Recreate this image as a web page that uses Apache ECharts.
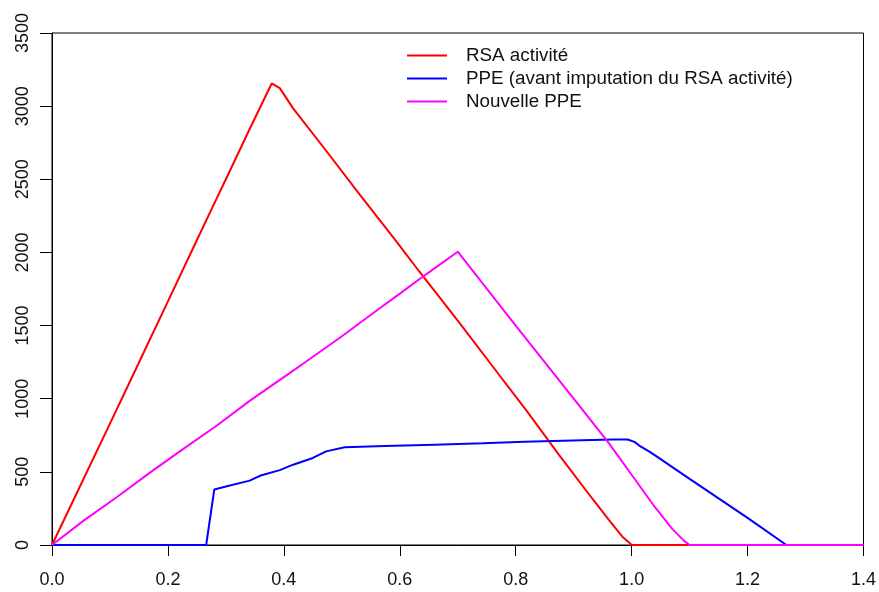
<!DOCTYPE html>
<html>
<head>
<meta charset="utf-8">
<script src="https://cdn.jsdelivr.net/npm/echarts@6/dist/echarts.min.js"></script>
<style>
html,body{margin:0;padding:0;background:#fff;}
#chart{width:879px;height:592px;}
</style>
</head>
<body>
<div id="chart"></div>
<script>
// Data
var seriesNames = ['RSA activité', 'PPE (avant imputation du RSA activité)', 'Nouvelle PPE'];
var xTickLabels = ['0.0', '0.2', '0.4', '0.6', '0.8', '1.0', '1.2', '1.4'];
var yTickLabels = ['0', '500', '1000', '1500', '2000', '2500', '3000', '3500'];

var rsaX = [0, 0.05, 0.10, 0.13, 0.17, 0.20, 0.25, 0.28, 0.30, 0.34, 0.379, 0.393, 0.416, 0.473, 0.531, 0.594, 0.634, 0.703, 0.760, 0.818, 0.875, 0.932, 0.961, 0.984, 0.996, 1.0, 1.4];
var rsaY = [0, 415, 830, 1080, 1415, 1665, 2085, 2335, 2500, 2835, 3155, 3123, 2985, 2695, 2395, 2075, 1868, 1518, 1222, 922, 615, 318, 170, 57, 16, 0, 0];

var ppeX = [0, 0.266, 0.280, 0.30, 0.341, 0.36, 0.393, 0.416, 0.45, 0.473, 0.505, 0.574, 0.66, 0.743, 0.815, 0.898, 0.967, 0.993, 1.005, 1.013, 1.03, 1.043, 1.1, 1.2, 1.267, 1.4];
var ppeY = [0, 0, 380, 400, 440, 475, 512, 549, 595, 640, 668, 676, 686, 695, 705, 714, 721, 721, 705, 680, 640, 606, 452, 185, 0, 0];

var nppeX = [0, 0.054, 0.111, 0.169, 0.226, 0.284, 0.341, 0.41, 0.444, 0.496, 0.559, 0.599, 0.64, 0.70, 0.80, 0.90, 0.96, 1.00, 1.04, 1.07, 1.09, 1.10, 1.4];
var nppeY = [0, 165, 325, 495, 655, 815, 985, 1175, 1270, 1415, 1600, 1715, 1835, 2005, 1500, 1000, 700, 480, 260, 110, 30, 0, 0];

var colors = ['#ff0000', '#0000ff', '#ff00ff'];

function pairs(xs, ys) {
  return xs.map(function (x, i) { return [x, ys[i]]; });
}

var chart = echarts.init(document.getElementById('chart'), null, {renderer: 'canvas'});
var fontFamily = 'Liberation Sans, Arial, sans-serif';
var textColor = '#111';

chart.setOption({
  animation: false,
  backgroundColor: '#ffffff',
  grid: {
    left: 52, right: 14, top: 33, bottom: 47,
    show: true, borderColor: '#000', borderWidth: 1, backgroundColor: 'transparent'
  },
  legend: {
    orient: 'vertical',
    left: 407,
    top: 46,
    padding: 0,
    itemWidth: 40,
    itemHeight: 2,
    itemGap: 4,
    icon: 'rect',
    data: seriesNames,
    textStyle: {
      fontFamily: fontFamily, fontSize: 18.8, color: textColor,
      lineHeight: 17.5, padding: [0, 0, 0, 14]
    }
  },
  xAxis: {
    type: 'value',
    min: 0, max: 1.4, interval: 0.2,
    axisLine: {show: true, onZero: false, lineStyle: {color: '#000', width: 1}},
    axisTick: {show: true, length: 11, lineStyle: {color: '#000'}},
    splitLine: {show: false},
    axisLabel: {
      margin: 26,
      fontFamily: fontFamily, fontSize: 18, color: textColor,
      formatter: function (v) { return xTickLabels[Math.round(v / 0.2)]; }
    }
  },
  yAxis: {
    type: 'value',
    min: 0, max: 3500, interval: 500,
    axisLine: {show: true, lineStyle: {color: '#000', width: 1}},
    axisTick: {show: true, length: 12, lineStyle: {color: '#000'}},
    splitLine: {show: false},
    axisLabel: {
      rotate: 90,
      margin: 20,
      fontFamily: fontFamily, fontSize: 18, color: textColor,
      formatter: function (v) { return yTickLabels[Math.round(v / 500)]; }
    }
  },
  series: [
    {name: seriesNames[0], type: 'line', data: pairs(rsaX, rsaY), showSymbol: false, symbol: 'none',
     lineStyle: {color: colors[0], width: 2}, itemStyle: {color: colors[0]}},
    {name: seriesNames[1], type: 'line', data: pairs(ppeX, ppeY), showSymbol: false, symbol: 'none',
     lineStyle: {color: colors[1], width: 2}, itemStyle: {color: colors[1]}},
    {name: seriesNames[2], type: 'line', data: pairs(nppeX, nppeY), showSymbol: false, symbol: 'none',
     lineStyle: {color: colors[2], width: 2}, itemStyle: {color: colors[2]}}
  ]
});
</script>
</body>
</html>
